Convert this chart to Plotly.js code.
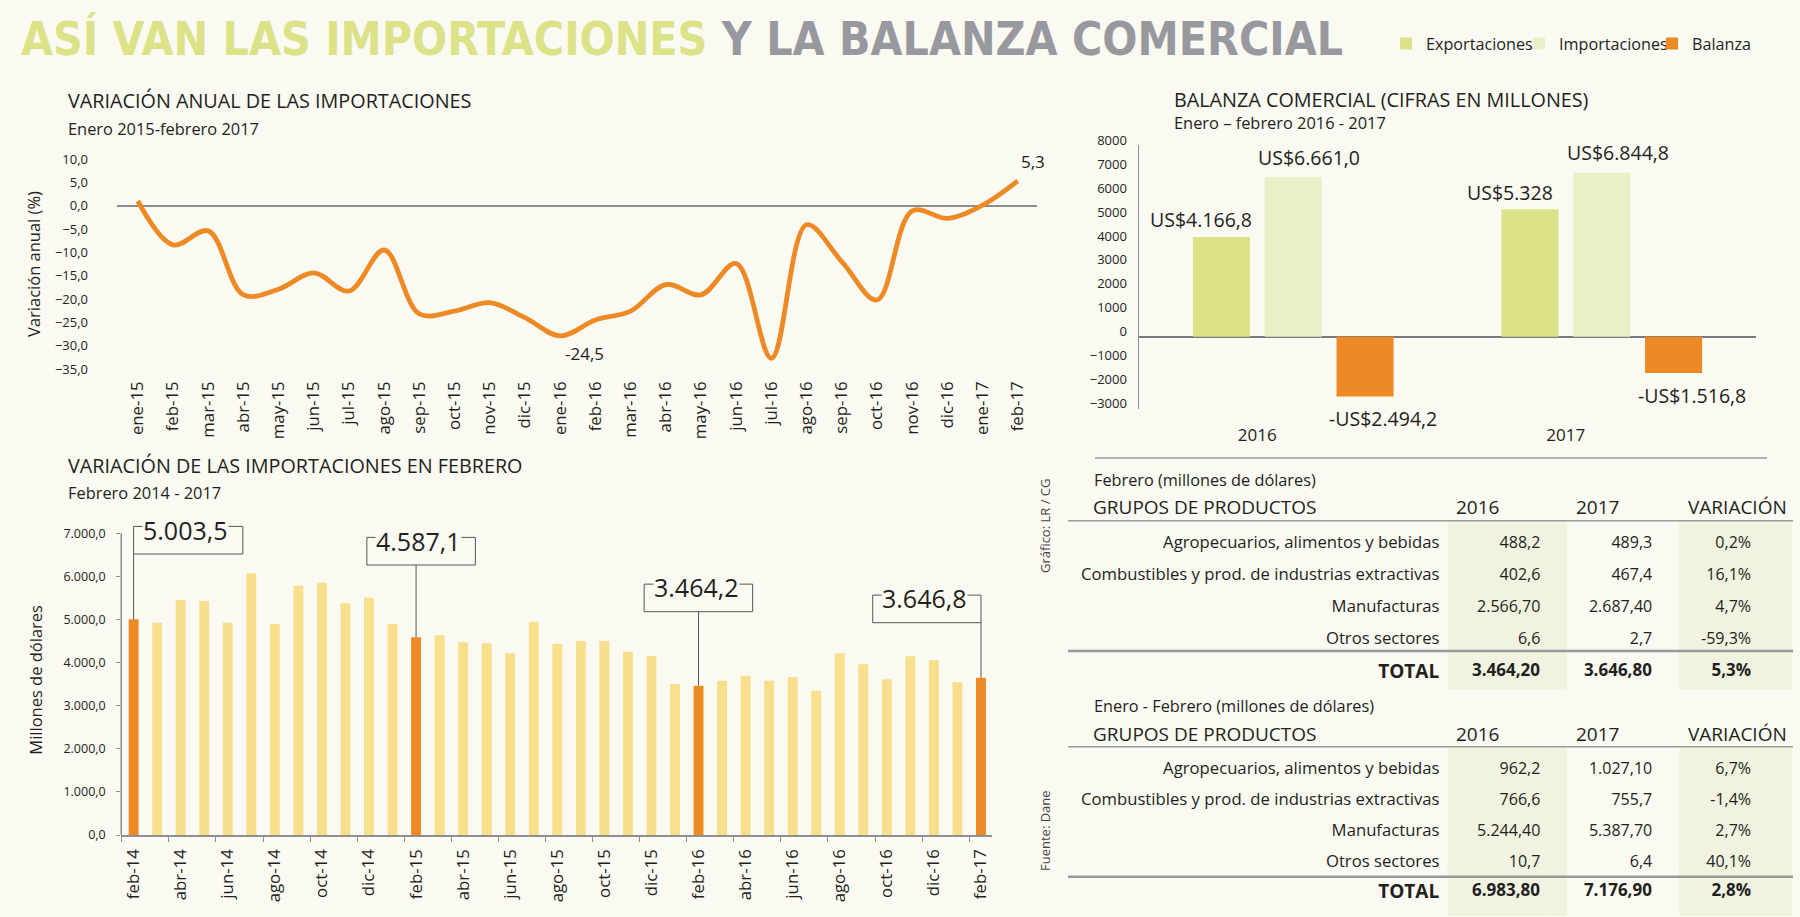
<!DOCTYPE html>
<html><head><meta charset="utf-8">
<script src="https://cdn.plot.ly/plotly-3.0.1.min.js"></script>
<style>html,body{margin:0;padding:0;background:#fafaf2;}#chart{width:1800px;height:917px;}</style>
</head><body><div id="chart"></div>
<script>
// ---------- DATA ----------
const lineMonths = ['ene-15','feb-15','mar-15','abr-15','may-15','jun-15','jul-15','ago-15','sep-15','oct-15','nov-15','dic-15',
  'ene-16','feb-16','mar-16','abr-16','may-16','jun-16','jul-16','ago-16','sep-16','oct-16','nov-16','dic-16','ene-17','feb-17'];
const lineValues = [1.0,-8.4,-5.4,-19.1,-17.9,-14.4,-18.3,-9.5,-23.2,-22.6,-20.8,-24.0,
  -27.9,-24.5,-22.6,-16.9,-19.1,-12.4,-32.7,-4.1,-12.0,-20.2,-1.1,-2.7,0.1,5.3];

const febMonths = ['feb-14','mar-14','abr-14','may-14','jun-14','jul-14','ago-14','sep-14','oct-14','nov-14','dic-14','ene-15',
  'feb-15','mar-15','abr-15','may-15','jun-15','jul-15','ago-15','sep-15','oct-15','nov-15','dic-15','ene-16',
  'feb-16','mar-16','abr-16','may-16','jun-16','jul-16','ago-16','sep-16','oct-16','nov-16','dic-16','ene-17','feb-17'];
const febValues = [5003.5,4927,5452,5429,4927,6071,4896,5785,5855,5375,5507,4896,
  4587.1,4633,4470,4447,4215,4950,4439,4501,4501,4254,4153,3503,
  3464.2,3581,3697,3581,3666,3349,4215,3960,3612,4145,4053,3542,3646.8];

const balYears = ['2016','2017'];
const exportaciones = [4166.8, 5328];
const importaciones = [6661.0, 6844.8];
const balanza = [-2494.2, -1516.8];
const expLabels = ['US$4.166,8','US$5.328'];
const impLabels = ['US$6.661,0','US$6.844,8'];
const balLabels = ['-US$2.494,2','-US$1.516,8'];

const tableHeaders = ['GRUPOS DE PRODUCTOS','2016','2017','VARIACIÓN'];
const groups = ['Agropecuarios, alimentos y bebidas','Combustibles y prod. de industrias extractivas','Manufacturas','Otros sectores','TOTAL'];
const feb2016 = ['488,2','402,6','2.566,70','6,6','3.464,20'];
const feb2017 = ['489,3','467,4','2.687,40','2,7','3.646,80'];
const febVar  = ['0,2%','16,1%','4,7%','-59,3%','5,3%'];
const ef2016  = ['962,2','766,6','5.244,40','10,7','6.983,80'];
const ef2017  = ['1.027,10','755,7','5.387,70','6,4','7.176,90'];
const efVar   = ['6,7%','-1,4%','2,7%','40,1%','2,8%'];

// ---------- STYLE ----------
const BG = '#fafaf2', SHADE = '#f1f2e0', TXT = '#231f20', GRAY = '#8f8f8f';
const ORANGE = '#ee8a25', YELLOW = '#f8df8c', GREEN = '#dbe287', LIGHT = '#ebefc6';
const CLEAR = 'rgba(0,0,0,0)';
const FONT = 'Open Sans, sans-serif';
const px = v => v / 1800;
const py = v => 1 - v / 917;
function fmtEs(v, d) {
  const s = Math.abs(v).toFixed(d).split('.');
  const i = s[0].replace(/\B(?=(\d{3})+(?!\d))/g, '.');
  return (v < 0 ? '-' : '') + i + (s[1] ? ',' + s[1] : '');
}
function ann(text, x, y, size, opts) {
  return Object.assign({text: text, x: px(x), y: py(y), xref: 'paper', yref: 'paper', xanchor: 'left', yanchor: 'middle',
    showarrow: false, font: {family: FONT, size: size, color: TXT}}, opts || {});
}

// ---------- TRACES ----------
const traces = [];
traces.push({type: 'scatter', mode: 'lines', x: lineMonths, y: lineValues, xaxis: 'x', yaxis: 'y',
  line: {color: ORANGE, width: 4.8, shape: 'spline', smoothing: 1}, showlegend: false, hoverinfo: 'skip'});
traces.push({type: 'bar', x: febMonths, y: febValues, xaxis: 'x2', yaxis: 'y2', width: 0.42,
  marker: {color: febMonths.map(m => m.startsWith('feb') ? ORANGE : YELLOW)}, showlegend: false, hoverinfo: 'skip'});
[['Exportaciones', exportaciones, GREEN], ['Importaciones', importaciones, LIGHT], ['Balanza', balanza, ORANGE]].forEach(([name, vals, col]) => {
  traces.push({type: 'bar', name: name, x: balYears, y: vals, xaxis: 'x3', yaxis: 'y3', marker: {color: col}, hoverinfo: 'skip'});
});

function headerTable(yTop) {
  return {type: 'table', domain: {x: [px(1085), px(1793)], y: [py(yTop + 34), py(yTop)]}, columnwidth: [363, 120, 112, 113],
    header: {values: ['', '', '', ''], height: 1, fill: {color: CLEAR}, line: {width: 0, color: CLEAR}},
    cells: {values: tableHeaders.map(h => [h]), align: 'left', height: 32,
      fill: {color: CLEAR}, line: {width: 0, color: CLEAR},
      font: {family: FONT, size: 19, color: TXT}}};
}
// rows [r0, r1) of a table block
function rowsTable(yTop, yBottom, headH, rowH, r0, r1, c16, c17, cv, total) {
  const sl = a => a.slice(r0, r1);
  const b = a => total ? sl(a).map(v => '<b>' + v + '</b>') : sl(a);
  const blank = sl(groups).map(() => '');
  const fills = [BG, SHADE, SHADE, BG, BG, SHADE, SHADE];
  const fs = total ? [19, 17, 15, 17, 15, 17, 15] : [16.7, 16, 15, 16, 15, 16, 15];
  return {type: 'table', domain: {x: [px(1068), px(1793)], y: [py(yBottom), py(yTop)]},
    columnwidth: [380, 101, 19, 93, 19, 80, 33],
    header: {values: ['', '', '', '', '', '', ''], height: headH, fill: {color: fills}, line: {width: 0, color: CLEAR}},
    cells: {values: [b(groups), b(c16), blank, b(c17), blank, b(cv), blank],
      align: 'right', height: rowH, fill: {color: fills}, line: {width: 0, color: CLEAR},
      font: {family: FONT, color: TXT, size: fs}}};
}
// Febrero table
traces.push(headerTable(490.8));
traces.push(rowsTable(520.7, 656, 7, 32, 0, 4, feb2016, feb2017, febVar, false));
traces.push(rowsTable(648.7, 690, 1, 39, 4, 5, feb2016, feb2017, febVar, true));
// Enero-Febrero table
traces.push(headerTable(718.2));
traces.push(rowsTable(746.7, 878, 7, 31, 0, 4, ef2016, ef2017, efVar, false));
traces.push(rowsTable(869, 917, 1, 47, 4, 5, ef2016, ef2017, efVar, true));

// ---------- ANNOTATIONS ----------
const annotations = [];
annotations.push(ann('<b><span style="color:#dbe287">ASÍ VAN LAS IMPORTACIONES</span> <span style="color:#98989f">Y LA BALANZA COMERCIAL</span></b>',
  19, 39, 46, {font: {family: 'Liberation Sans Narrow, Arial Narrow, DejaVu Sans Condensed, sans-serif', size: 46, color: TXT}}));
annotations.push(ann('VARIACIÓN ANUAL DE LAS IMPORTACIONES', 66, 100, 19.8));
annotations.push(ann('Enero 2015-febrero 2017', 66, 129, 16.4));
annotations.push(ann('VARIACIÓN DE LAS IMPORTACIONES EN FEBRERO', 66, 465, 19.8));
annotations.push(ann('Febrero 2014 - 2017', 66, 493, 16.4));
annotations.push(ann('BALANZA COMERCIAL (CIFRAS EN MILLONES)', 1172, 99.5, 19.8));
annotations.push(ann('Enero – febrero 2016 - 2017', 1172, 122.5, 16.4));
annotations.push(ann('Febrero (millones de dólares)', 1092, 479.5, 16.3));
annotations.push(ann('Enero - Febrero (millones de dólares)', 1092, 706, 16.3));
annotations.push(ann('Gráfico: LR / CG', 1045, 526, 13, {textangle: -90, xanchor: 'center', font: {family: FONT, size: 13, color: '#444'}}));
annotations.push(ann('Fuente: Dane', 1045, 831, 13, {textangle: -90, xanchor: 'center', font: {family: FONT, size: 13, color: '#444'}}));

// line chart value labels
const lastI = lineValues.length - 1;
annotations.push({xref: 'x', yref: 'y', x: lastI, y: lineValues[lastI], text: fmtEs(lineValues[lastI], 1),
  showarrow: false, xshift: 15, yshift: 19, font: {family: FONT, size: 17, color: TXT}});
const fi = lineMonths.indexOf('feb-16');
annotations.push({xref: 'x', yref: 'y', x: fi, y: lineValues[fi], text: fmtEs(lineValues[fi], 1),
  showarrow: false, xshift: -11, yshift: -33, font: {family: FONT, size: 17, color: TXT}});

// balanza labels
const slot = 71.8;
[[exportaciones, expLabels, -slot - 20, 17], [importaciones, impLabels, 16, 20], [balanza, balLabels, slot + 18, -22]].forEach(([vals, labs, xs, ys]) => {
  vals.forEach((v, i) => annotations.push({xref: 'x3', yref: 'y3', x: i, y: v, text: labs[i], showarrow: false,
    xshift: xs, yshift: ys, font: {family: FONT, size: 19.5, color: TXT}}));
});

// ---------- CALLOUTS on february bars ----------
const shapes = [];
const callouts = [
  {month: 'feb-14', dx0: 0, dx1: 4.64, y0: 6520},
  {month: 'feb-15', dx0: -2.09, dx1: 2.52, y0: 6265},
  {month: 'feb-16', dx0: -2.31, dx1: 2.30, y0: 5181},
  {month: 'feb-17', dx0: -4.60, dx1: 0, y0: 4926}
];
const BOXH = 640;
callouts.forEach(c => {
  const i = febMonths.indexOf(c.month);
  const v = febValues[i];
  shapes.push({type: 'rect', xref: 'x2', yref: 'y2', x0: i + c.dx0, x1: i + c.dx1, y0: c.y0, y1: c.y0 + BOXH,
    line: {color: '#555', width: 1}, fillcolor: CLEAR});
  shapes.push({type: 'line', xref: 'x2', yref: 'y2', x0: i, x1: i, y0: v, y1: c.y0, line: {color: '#555', width: 1}});
  annotations.push({xref: 'x2', yref: 'y2', x: i + (c.dx0 + c.dx1) / 2 - 0.1, y: c.y0 + BOXH - 75, text: fmtEs(v, 1),
    showarrow: false, bgcolor: BG, borderpad: 0, font: {family: FONT, size: 25, color: TXT}});
});
// bar chart y axis line
shapes.push({type: 'line', xref: 'x2 domain', yref: 'y2', x0: 0, x1: 0, y0: 0, y1: 7000, line: {color: GRAY, width: 1.5}});

// table rules
const rule = (x0, y, x1, w) => ({type: 'line', xref: 'paper', yref: 'paper', x0: px(x0), x1: px(x1), y0: py(y), y1: py(y), line: {color: '#999', width: w}});
shapes.push(rule(1095, 458, 1767, 1.5));
shapes.push(rule(1068, 520.7, 1793, 1.5));
shapes.push(rule(1068, 651, 1793, 2.5));
shapes.push(rule(1068, 746.7, 1793, 1.5));
shapes.push(rule(1068, 876.7, 1793, 2.5));

// ---------- LAYOUT ----------
const tickFont = s => ({family: FONT, size: s, color: TXT});
const layout = {
  width: 1800, height: 917, margin: {l: 0, r: 0, t: 0, b: 0},
  paper_bgcolor: BG, plot_bgcolor: BG, separators: ',.',
  font: {family: FONT, color: TXT},
  hovermode: false,
  showlegend: true,
  legend: {orientation: 'h', x: px(1386), xanchor: 'left', y: py(44), yanchor: 'middle',
    font: {family: FONT, size: 16.2, color: TXT}, bgcolor: CLEAR, itemwidth: 30, entrywidth: 88, entrywidthmode: 'pixels'},
  barmode: 'group', bargap: 0.3016, bargroupgap: 0.206,
  xaxis: {domain: [px(117), px(1036.6)], anchor: 'y', type: 'category', range: [-0.591, 25.534],
    tickmode: 'linear', tick0: 0, dtick: 1, tickangle: -90, ticks: '', showline: false, showgrid: false, zeroline: false,
    tickfont: tickFont(16.8), ticklabelstandoff: 8, automargin: false},
  yaxis: {domain: [py(369), py(159)], anchor: 'x', range: [-35, 10], tickmode: 'linear', tick0: -35, dtick: 5,
    tickformat: '.1f', showgrid: false, showline: false, ticks: '', zeroline: true, zerolinecolor: '#8c8c8c', zerolinewidth: 2,
    tickfont: tickFont(13), ticklabelstandoff: 28, automargin: false,
    title: {text: 'Variación anual (%)', font: {family: FONT, size: 16.5, color: TXT}, standoff: 10}},
  xaxis2: {domain: [px(121.2), px(991.7)], anchor: 'y2', type: 'category', range: [-0.527, 36.455],
    tickmode: 'linear', tick0: 0, dtick: 2, tickson: 'boundaries', ticks: 'outside', ticklen: 5, tickcolor: GRAY,
    showline: true, linecolor: GRAY, linewidth: 1.5, showgrid: false, zeroline: false, tickangle: -90,
    tickfont: tickFont(16.8), ticklabelstandoff: 6, automargin: false},
  yaxis2: {domain: [py(835), py(524.7)], anchor: 'x2', range: [0, 7200], tickmode: 'array',
    tickvals: [0, 1000, 2000, 3000, 4000, 5000, 6000, 7000], tickformat: ',.1f',
    ticks: 'outside', ticklen: 4, tickcolor: GRAY, showline: false, showgrid: false, zeroline: false,
    tickfont: tickFont(12.5), ticklabelstandoff: 8, automargin: false,
    title: {text: 'Millones de dólares', font: {family: FONT, size: 16.5, color: TXT}, standoff: 16}},
  xaxis3: {domain: [px(1139), px(1756)], anchor: 'y3', type: 'category', range: [-0.5, 1.5],
    ticks: '', showline: false, showgrid: false, zeroline: false, ticklabelshift: -36,
    tickfont: tickFont(17), ticklabelstandoff: 14, automargin: false},
  yaxis3: {domain: [py(408.5), py(145.2)], anchor: 'x3', range: [-3000, 8000], tickmode: 'linear', tick0: -3000, dtick: 1000,
    tickformat: 'd', ticks: '', showline: true, linecolor: GRAY, linewidth: 1.5, showgrid: false,
    zeroline: true, zerolinecolor: '#7a7a7a', zerolinewidth: 2, ticklabelshift: -5,
    tickfont: tickFont(13), ticklabelstandoff: 8, automargin: false},
  annotations: annotations,
  shapes: shapes
};

Plotly.newPlot('chart', traces, layout, {staticPlot: true, displayModeBar: false});
</script>
</body></html>
